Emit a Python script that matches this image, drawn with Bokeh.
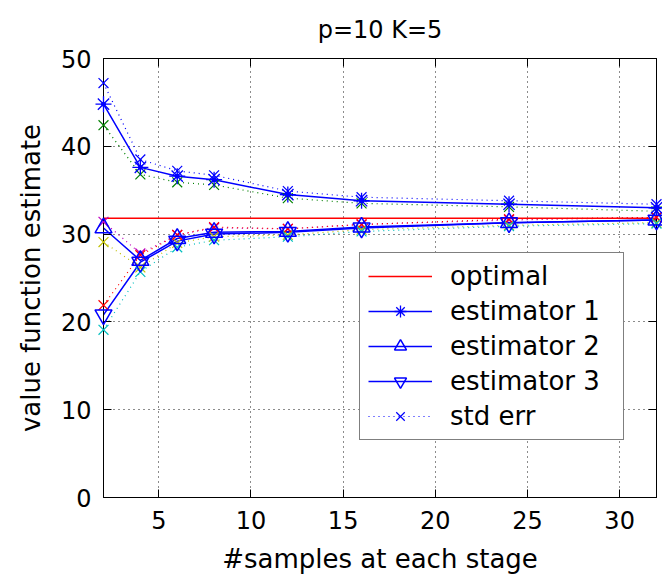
from bokeh.plotting import figure
from bokeh.models import (Range1d, FixedTicker, LinearAxis, Legend, LegendItem,
                          CustomLabelingPolicy)
from bokeh.embed import file_html
from bokeh.resources import INLINE

# ---- data ----
samples = [2, 4, 6, 8, 12, 16, 24, 32]
optimal = [31.8, 31.8, 31.8, 31.8, 31.8, 31.8, 31.8, 31.8]
est1 = [44.8, 37.6, 36.6, 36.2, 34.5, 33.8, 33.4, 33.0]
est2 = [30.7, 27.0, 29.5, 30.2, 30.3, 30.8, 31.3, 31.6]
est3 = [20.8, 26.8, 29.2, 30.0, 30.2, 30.7, 31.3, 31.6]
est1_hi = [47.2, 38.5, 37.2, 36.7, 34.9, 34.2, 33.8, 33.4]
est1_lo = [42.4, 36.8, 35.9, 35.6, 34.1, 33.5, 33.1, 32.6]
est2_hi = [31.4, 27.8, 29.9, 30.7, 30.6, 31.1, 31.6, 31.9]
est2_lo = [29.1, 26.2, 29.0, 29.7, 29.9, 30.5, 31.0, 31.3]
est3_hi = [21.9, 27.6, 29.9, 30.8, 30.6, 31.1, 31.7, 31.9]
est3_lo = [19.1, 25.7, 28.5, 29.3, 29.7, 30.3, 30.9, 31.2]
x_ticks = [5, 10, 15, 20, 25, 30]
y_ticks = [0, 10, 20, 30, 40, 50]

FONT = "DejaVu Sans"
BLUE = "#0000ff"

p = figure(frame_width=553, frame_height=439,
           min_border_left=103, min_border_right=6,
           min_border_top=58, min_border_bottom=82,
           x_range=Range1d(2, 32), y_range=Range1d(0, 50),
           output_backend="svg", toolbar_location=None,
           title="p=10 K=5")
p.background_fill_color = "white"
p.border_fill_color = "white"
p.outline_line_color = "black"
p.outline_line_width = 1

p.title.align = "center"
p.title.text_font = FONT
p.title.text_font_size = "24px"
p.title.text_font_style = "normal"
p.title.text_color = "black"
p.title.standoff = 22

for ax in (p.xaxis[0], p.yaxis[0]):
    ax.major_label_text_font = FONT
    ax.major_label_text_font_size = "24px"
    ax.major_label_text_color = "black"
    ax.axis_label_text_font = FONT
    ax.axis_label_text_font_size = "26px"
    ax.axis_label_text_font_style = "normal"
    ax.axis_label_text_color = "black"
    ax.major_tick_in = 8
    ax.major_tick_out = 0
    ax.minor_tick_line_color = None
    ax.axis_line_color = "black"
    ax.major_tick_line_color = "black"

p.xaxis[0].ticker = FixedTicker(ticks=x_ticks)
p.yaxis[0].ticker = FixedTicker(ticks=y_ticks)
p.xaxis[0].axis_label = "#samples at each stage"
p.yaxis[0].axis_label = "value function estimate"
p.xaxis[0].major_label_standoff = 13
p.yaxis[0].major_label_standoff = 12
p.xaxis[0].axis_label_standoff = 12
p.yaxis[0].axis_label_standoff = 12

hide_labels = CustomLabelingPolicy(code="return new Set()")
for loc, tk in (("above", x_ticks), ("right", y_ticks)):
    a = LinearAxis(ticker=FixedTicker(ticks=tk))
    a.major_label_policy = hide_labels
    a.major_label_text_font_size = "1px"
    a.major_label_standoff = 0
    a.major_tick_in = 8
    a.major_tick_out = 0
    a.minor_tick_line_color = None
    a.axis_line_color = "black"
    a.major_tick_line_color = "black"
    p.add_layout(a, loc)

p.xgrid.ticker = FixedTicker(ticks=x_ticks)
p.ygrid.ticker = FixedTicker(ticks=y_ticks)
p.grid.grid_line_color = "black"
p.grid.grid_line_dash = "1 4"
p.grid.grid_line_width = 1
p.grid.grid_line_alpha = 0.9

# std err lines
stderr_sets = [(est1_hi, "#0000ff"), (est1_lo, "#008000"),
               (est2_hi, "#bf00bf"), (est2_lo, "#bfbf00"),
               (est3_hi, "#ff0000"), (est3_lo, "#00bfbf")]
stderr_legend = []
for vals, col in stderr_sets:
    l = p.line(samples, vals, line_color=col, line_dash="1 4", line_width=1.2)
    s = p.scatter(samples, vals, marker="x", size=14, line_color=col, line_width=1.2,
                  level="overlay")
    stderr_legend.append((l, s))

r_opt = p.line(samples, optimal, line_color="#ff0000", line_width=1.5)

l1 = p.line(samples, est1, line_color=BLUE, line_width=1.5)
s1 = p.scatter(samples, est1, marker="asterisk", size=16, line_color=BLUE, line_width=1.3,
               level="overlay")
d1 = p.scatter(samples, est1, marker="circle", size=4, fill_color=BLUE, line_color=BLUE,
               level="overlay")
l2 = p.line(samples, est2, line_color=BLUE, line_width=1.5)
s2 = p.scatter(samples, est2, marker="triangle", size=17, fill_color=None, line_color=BLUE,
               line_width=1.5, level="overlay")
l3 = p.line(samples, est3, line_color=BLUE, line_width=1.5)
s3 = p.scatter(samples, est3, marker="inverted_triangle", size=17, fill_color=None,
               line_color=BLUE, line_width=1.5, level="overlay")

legend = Legend(items=[
    LegendItem(label="optimal", renderers=[r_opt]),
    LegendItem(label="estimator 1", renderers=[l1, s1]),
    LegendItem(label="estimator 2", renderers=[l2, s2]),
    LegendItem(label="estimator 3", renderers=[l3, s3]),
    LegendItem(label="std err", renderers=list(stderr_legend[0])),
], location=(256, 57))
legend.margin = 0
legend.padding = 8
legend.spacing = 5
legend.glyph_width = 64
legend.glyph_height = 30
legend.label_height = 30
legend.label_width = 165
legend.label_standoff = 18
legend.label_text_font = FONT
legend.label_text_font_size = "26px"
legend.label_text_color = "black"
legend.border_line_color = "black"
legend.border_line_width = 1.2
legend.background_fill_color = "white"
legend.background_fill_alpha = 1
p.add_layout(legend, "center")

open("out.html", "w").write(file_html(p, INLINE))
